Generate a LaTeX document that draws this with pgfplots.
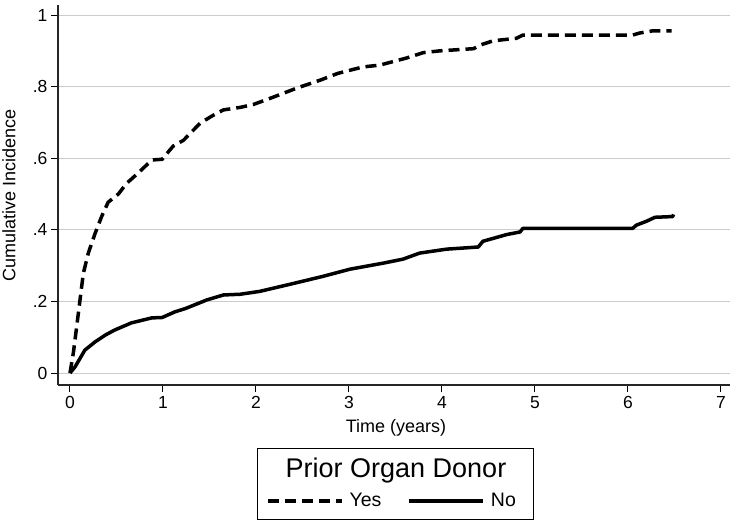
\documentclass[border=0pt]{standalone}
\usepackage{fontspec}
\setmainfont{Liberation Sans}
\usepackage{pgfplots}
\pgfplotsset{compat=1.18}
\begin{document}
\begin{tikzpicture}[x=1pt,y=1pt]
\useasboundingbox (0,0) rectangle (737,523);
\begin{axis}[
  at={(58pt,138pt)}, anchor=south west,
  scale only axis, width=672pt, height=380pt,
  xmin=-0.129, xmax=7.097, ymin=-0.0335, ymax=1.028,
  axis x line*=bottom, axis y line*=left,
  axis line style={line width=1.3pt, black!85},
  xtick={0,1,2,3,4,5,6,7},
  ytick={0,0.2,0.4,0.6,0.8,1}, yticklabels={0,.2,.4,.6,.8,1},
  tick align=outside, major tick length=7pt,
  tick style={line width=1pt, black},
  ymajorgrids, grid style={gray!40, line width=0.8pt},
  ticklabel style={font=\fontsize{17.5}{20}\selectfont},
  xticklabel style={yshift=-1pt},
  /pgf/number format/assume math mode=true,
  xlabel={Time (years)}, ylabel={Cumulative Incidence},
  label style={font=\fontsize{18}{21}\selectfont},
  xlabel style={at={(axis description cs:0.503,-0.113)}, anchor=center},
  ylabel style={at={(axis description cs:-0.073,0.5)}, anchor=center},
  legend columns=2,
  legend style={at={(axis description cs:0.497,-0.305)}, anchor=center, draw=none, fill=none,
    font=\fontsize{19.5}{23}\selectfont,
    /tikz/every odd column/.append style={column sep=4pt},
    /tikz/every even column/.append style={column sep=24pt}},
  legend image code/.code={\draw[#1] (0pt,0pt) -- (74pt,0pt);},
]
\addplot[black, line width=3.5pt, dash pattern=on 11pt off 6pt] coordinates {
(0,0) (0.036,0.056) (0.09,0.167) (0.143,0.278) (0.197,0.335) (0.27,0.39) (0.34,0.437) (0.41,0.477) (0.52,0.50) (0.61,0.53) (0.73,0.558) (0.88,0.595) (0.99,0.597) (1.11,0.634) (1.22,0.65) (1.4,0.698) (1.54,0.72) (1.65,0.735) (1.83,0.742) (1.97,0.75) (2.18,0.77) (2.44,0.796) (2.69,0.818) (2.88,0.837) (3.15,0.855) (3.33,0.86) (3.62,0.88) (3.8,0.895) (3.98,0.90) (4.34,0.906) (4.41,0.916) (4.55,0.928) (4.8,0.935) (4.87,0.944) (6.05,0.944) (6.13,0.95) (6.27,0.956) (6.47,0.956)
};
\addlegendentry{Yes}
\addplot[black, line width=3.5pt, line join=round] coordinates {
(0,0) (0.054,0.017) (0.16,0.064) (0.27,0.087) (0.38,0.106) (0.48,0.12) (0.66,0.14) (0.88,0.154) (0.99,0.155) (1.13,0.171) (1.24,0.18) (1.47,0.204) (1.65,0.218) (1.83,0.22) (2.04,0.228) (2.4,0.25) (2.72,0.27) (3.01,0.29) (3.37,0.307) (3.58,0.318) (3.76,0.335) (4.05,0.346) (4.39,0.352) (4.44,0.368) (4.7,0.387) (4.84,0.394) (4.87,0.404) (6.05,0.404) (6.09,0.413) (6.2,0.424) (6.29,0.435) (6.48,0.437) (6.49,0.443)
};
\addlegendentry{No}
\end{axis}
\draw[line width=1pt] (257,4) rectangle (533,75);
\node[font=\fontsize{27}{32}\selectfont] at (396,52) {Prior Organ Donor};
\end{tikzpicture}
\end{document}
